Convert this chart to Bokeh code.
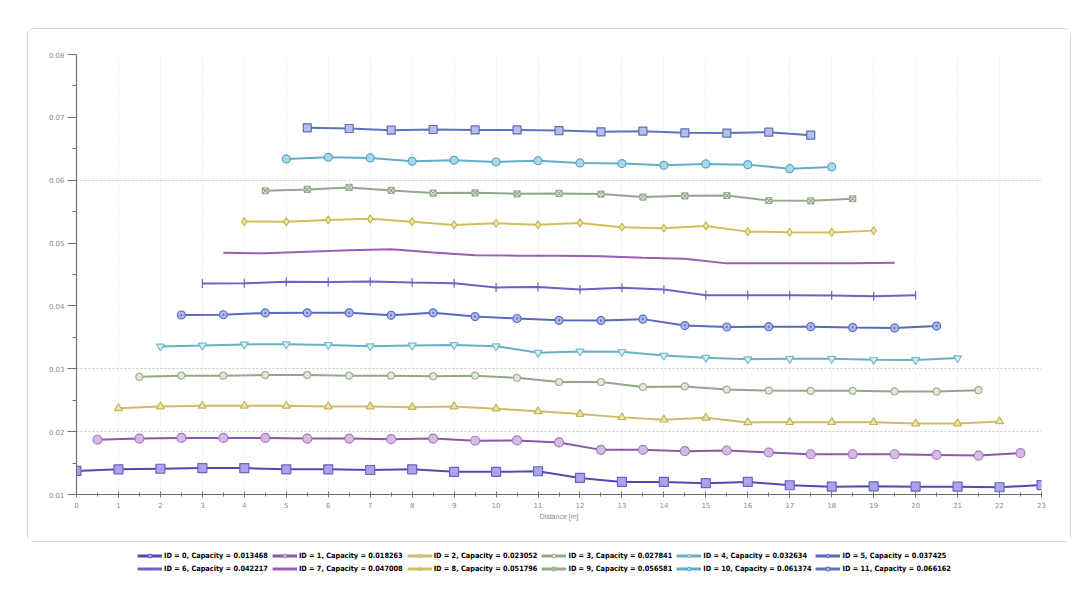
import math
from bokeh.plotting import figure
from bokeh.models import (Legend, LegendItem, FixedTicker, Range1d,
                          NumeralTickFormatter)
from bokeh.layouts import column
from bokeh.embed import file_html
from bokeh.resources import INLINE

# ---------------- data ----------------
s1_x = [0, 1, 2, 3, 4, 5, 6, 7, 8, 9, 10, 11, 12, 13, 14, 15, 16, 17, 18, 19, 20, 21, 22, 23]
s1_y = [0.01375, 0.0140, 0.0141, 0.0142, 0.0142, 0.0140, 0.0140, 0.0139, 0.0140, 0.0136, 0.0136, 0.0137,
        0.01263, 0.0120, 0.0120, 0.0118, 0.0120, 0.01147, 0.01125, 0.0113, 0.01125, 0.01125, 0.01115, 0.0115]

s2_x = [0.5, 1.5, 2.5, 3.5, 4.5, 5.5, 6.5, 7.5, 8.5, 9.5, 10.5, 11.5, 12.5, 13.5, 14.5, 15.5, 16.5, 17.5,
        18.5, 19.5, 20.5, 21.5, 22.5]
s2_y = [0.01871, 0.0189, 0.0190, 0.0190, 0.0190, 0.0189, 0.0189, 0.0188, 0.0189, 0.01855, 0.0186, 0.01828,
        0.0171, 0.0171, 0.0169, 0.0170, 0.01668, 0.0164, 0.0164, 0.0164, 0.0163, 0.0162, 0.01658]

s3_x = [1, 2, 3, 4, 5, 6, 7, 8, 9, 10, 11, 12, 13, 14, 15, 16, 17, 18, 19, 20, 21, 22]
s3_y = [0.02371, 0.0240, 0.0241, 0.0241, 0.0241, 0.0240, 0.0240, 0.0239, 0.0240, 0.02366, 0.02323, 0.0228,
        0.02227, 0.0219, 0.0222, 0.02147, 0.0215, 0.0215, 0.0215, 0.0213, 0.0213, 0.02163]

s4_x = [1.5, 2.5, 3.5, 4.5, 5.5, 6.5, 7.5, 8.5, 9.5, 10.5, 11.5, 12.5, 13.5, 14.5, 15.5, 16.5, 17.5, 18.5,
        19.5, 20.5, 21.5]
s4_y = [0.02872, 0.0289, 0.0289, 0.0290, 0.0290, 0.0289, 0.0289, 0.0288, 0.0289, 0.02856, 0.0279, 0.0279,
        0.0271, 0.0272, 0.0267, 0.02653, 0.0265, 0.0265, 0.0264, 0.02637, 0.0266]

s5_x = [2, 3, 4, 5, 6, 7, 8, 9, 10, 11, 12, 13, 14, 15, 16, 17, 18, 19, 20, 21]
s5_y = [0.03356, 0.0337, 0.03388, 0.0339, 0.0338, 0.0336, 0.0337, 0.0338, 0.0336, 0.03255, 0.03276, 0.0327,
        0.0321, 0.03176, 0.03153, 0.0316, 0.0316, 0.03143, 0.0314, 0.0317]

s6_x = [2.5, 3.5, 4.5, 5.5, 6.5, 7.5, 8.5, 9.5, 10.5, 11.5, 12.5, 13.5, 14.5, 15.5, 16.5, 17.5, 18.5, 19.5, 20.5]
s6_y = [0.03856, 0.0386, 0.03888, 0.0389, 0.0389, 0.0385, 0.0389, 0.0383, 0.0380, 0.03771, 0.0377, 0.0379,
        0.03687, 0.03665, 0.0367, 0.0367, 0.03655, 0.0365, 0.0368]

s7_x = [3, 4, 5, 6, 7, 8, 9, 10, 11, 12, 13, 14, 15, 16, 17, 18, 19, 20]
s7_y = [0.04358, 0.0436, 0.04383, 0.0438, 0.0439, 0.04374, 0.0436, 0.04294, 0.0430, 0.04262, 0.0429, 0.0426,
        0.04171, 0.0417, 0.0417, 0.04166, 0.04155, 0.0417]

s8_x = [3.5, 4.5, 5.5, 6.5, 7.5, 8.5, 9.5, 10.5, 11.5, 12.5, 13.5, 14.5, 15.5, 16.5, 17.5, 18.5, 19.5]
s8_y = [0.04847, 0.04837, 0.0486, 0.04885, 0.0490, 0.0485, 0.04805, 0.0480, 0.0480, 0.04789, 0.04767, 0.0475,
        0.04677, 0.0468, 0.0468, 0.0468, 0.04687]

s9_x = [4, 5, 6, 7, 8, 9, 10, 11, 12, 13, 14, 15, 16, 17, 18, 19]
s9_y = [0.05342, 0.0534, 0.05369, 0.05385, 0.0534, 0.05289, 0.05316, 0.0529, 0.0532, 0.05252, 0.05236, 0.05273,
        0.05182, 0.05172, 0.0517, 0.05198]

s10_x = [4.5, 5.5, 6.5, 7.5, 8.5, 9.5, 10.5, 11.5, 12.5, 13.5, 14.5, 15.5, 16.5, 17.5, 18.5]
s10_y = [0.05832, 0.05853, 0.05885, 0.05837, 0.05795, 0.0580, 0.05784, 0.0579, 0.0578, 0.05732, 0.05752,
         0.05757, 0.05677, 0.05672, 0.05705]

s11_x = [5, 6, 7, 8, 9, 10, 11, 12, 13, 14, 15, 16, 17, 18]
s11_y = [0.06338, 0.06364, 0.06355, 0.0630, 0.06316, 0.0629, 0.06311, 0.06275, 0.06264, 0.06237, 0.06259,
         0.06248, 0.06184, 0.06211]

s12_x = [5.5, 6.5, 7.5, 8.5, 9.5, 10.5, 11.5, 12.5, 13.5, 14.5, 15.5, 16.5, 17.5]
s12_y = [0.06834, 0.06823, 0.06796, 0.06807, 0.068, 0.068, 0.0679, 0.0677, 0.0678, 0.06754, 0.0675, 0.06764,
         0.06716]

series_labels = [
    "ID = 0, Capacity = 0.013468", "ID = 1, Capacity = 0.018263", "ID = 2, Capacity = 0.023052",
    "ID = 3, Capacity = 0.027841", "ID = 4, Capacity = 0.032634", "ID = 5, Capacity = 0.037425",
    "ID = 6, Capacity = 0.042217", "ID = 7, Capacity = 0.047008", "ID = 8, Capacity = 0.051796",
    "ID = 9, Capacity = 0.056581", "ID = 10, Capacity = 0.061374", "ID = 11, Capacity = 0.066162",
]

x_ticks = list(range(0, 24))
y_ticks = [0.01, 0.02, 0.03, 0.04, 0.05, 0.06, 0.07, 0.08]
y_grid_lines = [0.02, 0.03, 0.06]

# ---------------- styles ----------------
styles = [
    dict(marker="square", line="#5548b4", fill="#aaa4e8", mline="#6a62c6", size=9, angle=0),
    dict(marker="circle", line="#8a58a6", fill="#d6bae6", mline="#a27cbe", size=9, angle=0),
    dict(marker="triangle", line="#cdbd6a", fill="#ece4aa", mline="#c4b45c", size=8, angle=0),
    dict(marker="circle", line="#94a688", fill="#e2e8da", mline="#a0b094", size=7, angle=0),
    dict(marker="inverted_triangle", line="#68b0c4", fill="#d6eff5", mline="#7cbace", size=8, angle=0),
    dict(marker="circle_dot", line="#5a68bc", fill="#aab8e8", mline="#5c6cc0", size=8, angle=0),
    dict(marker="dash", line="#6e60c4", fill="#6e60c4", mline="#6e60c4", size=9, angle=math.pi / 2),
    dict(marker=None, line="#9a5eb2", fill="#9a5eb2", mline="#9a5eb2", size=0, angle=0),
    dict(marker="diamond", line="#d0c05c", fill="#efe6a4", mline="#c8b850", size=8, angle=0),
    dict(marker="square_x", line="#94a88c", fill="#eef2ea", mline="#98aa90", size=6, angle=0),
    dict(marker="circle", line="#62aec8", fill="#a8d8e8", mline="#5aa6c0", size=8, angle=0),
    dict(marker="square", line="#5e72be", fill="#b2c0ea", mline="#5c6cb8", size=8, angle=0),
]

xs = [s1_x, s2_x, s3_x, s4_x, s5_x, s6_x, s7_x, s8_x, s9_x, s10_x, s11_x, s12_x]
ys = [s1_y, s2_y, s3_y, s4_y, s5_y, s6_y, s7_y, s8_y, s9_y, s10_y, s11_y, s12_y]

# ---------------- main figure ----------------
p = figure(frame_width=963, frame_height=438,
           x_range=Range1d(0, 23), y_range=Range1d(0.01, 0.08),
           output_backend="svg", toolbar_location=None,
           min_border_left=48, min_border_right=31, min_border_top=25, min_border_bottom=49)
p.margin = (28, 0, 0, 27)
p.styles = {"border": "1px solid #d6d6d6", "border-radius": "7px"}
p.outline_line_color = None
p.background_fill_color = "white"
p.border_fill_color = "white"

p.xaxis.ticker = FixedTicker(ticks=x_ticks, minor_ticks=[t + 0.5 for t in x_ticks[:-1]])
p.yaxis.ticker = FixedTicker(ticks=y_ticks, minor_ticks=[t + 0.005 for t in y_ticks[:-1]])
p.yaxis.formatter = NumeralTickFormatter(format="0.00")
for ax in (p.xaxis, p.yaxis):
    ax.axis_line_color = "#707070"
    ax.axis_line_width = 1.2
    ax.major_tick_line_color = "#707070"
    ax.minor_tick_line_color = "#707070"
    ax.major_label_text_font_size = "7px"
    ax.major_label_text_color = "#8a8a8a"
    ax.major_label_text_font = "DejaVu Sans"
p.yaxis.major_tick_out = 9
p.yaxis.major_tick_in = 0
p.yaxis.minor_tick_out = 4
p.yaxis.minor_tick_in = 0
p.yaxis.major_label_standoff = 3
p.xaxis.major_tick_out = 3
p.xaxis.major_tick_in = 3
p.xaxis.minor_tick_out = 2
p.xaxis.minor_tick_in = 2
p.xaxis.major_label_standoff = 4
p.xaxis.axis_label = "Distance [m]"
p.xaxis.axis_label_text_font_size = "7px"
p.xaxis.axis_label_text_font_style = "normal"
p.xaxis.axis_label_text_color = "#8a8a8a"
p.xaxis.axis_label_standoff = 2

p.xgrid.ticker = FixedTicker(ticks=x_ticks)
p.xgrid.grid_line_color = "#e2e2e2"
p.xgrid.grid_line_dash = "1 2"
p.ygrid.ticker = FixedTicker(ticks=y_grid_lines)
p.ygrid.grid_line_color = "#c6c6c6"
p.ygrid.grid_line_dash = "2 2"

for x, y, st in zip(xs, ys, styles):
    p.line(x, y, line_color=st["line"], line_width=2)
    if st["marker"]:
        p.scatter(x, y, marker=st["marker"], size=st["size"], angle=st["angle"],
                  fill_color=st["fill"], line_color=st["mline"], line_width=1.2)

# ---------------- legend figure ----------------
p2 = figure(width=1049, height=40, x_range=Range1d(0, 1), y_range=Range1d(0, 1),
            output_backend="svg", toolbar_location=None, min_border=0)
p2.margin = (0, 0, 0, 11)
p2.axis.visible = False
p2.grid.visible = False
p2.outline_line_color = None

items = []
for lab, st in zip(series_labels, styles):
    rs = [p2.line([-5, -4], [-5, -4], line_color=st["line"], line_width=3)]
    if st["marker"]:
        rs.append(p2.scatter([-5], [-5], marker=st["marker"], size=6, angle=st["angle"],
                             fill_color=st["fill"], line_color=st["mline"]))
    items.append(LegendItem(label=lab, renderers=rs))

legend = Legend(items=items, orientation="horizontal", ncols=6, location="center",
                border_line_color=None, background_fill_alpha=0,
                label_text_font_size="7.3px", label_text_font_style="bold",
                label_text_font="DejaVu Sans Condensed", label_text_color="black",
                glyph_width=25, glyph_height=9, label_height=9, label_standoff=2,
                spacing=4, padding=0, margin=0)
p2.add_layout(legend, "center")

layout = column(p, p2)
open("out.html", "w").write(file_html(layout, INLINE))
